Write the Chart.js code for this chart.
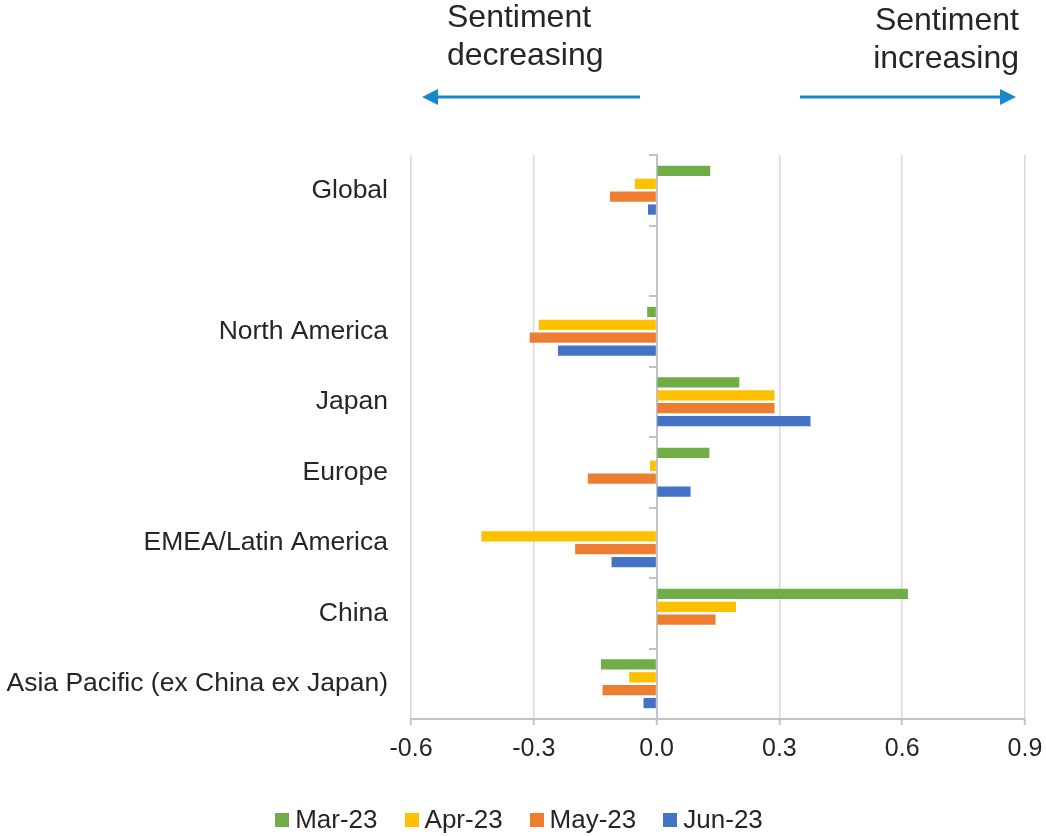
<!DOCTYPE html>
<html>
<head>
<meta charset="utf-8">
<script src="https://cdn.jsdelivr.net/npm/chart.js@4.4.1/dist/chart.umd.min.js"></script>
<style>
  html, body { margin: 0; padding: 0; background: #fff; }
  #wrap { position: relative; width: 1046px; height: 836px; }
  #legend {
    position: absolute; left: 0; top: 804px; width: 1038px;
    display: flex; justify-content: center;
    font-family: "Liberation Sans", Arial, sans-serif; font-size: 26px; color: #262626;
  }
  #legend .item { display: flex; align-items: center; margin: 0 13.5px; }
  #legend .sw { width: 14px; height: 14px; margin-right: 6px; }
</style>
</head>
<body>
<div id="wrap">
  <canvas id="chart" width="1046" height="836"></canvas>
  <div id="legend"></div>
</div>
<script>
// ---- data ----
const categories = ['Global', '', 'North America', 'Japan', 'Europe', 'EMEA/Latin America', 'China', 'Asia Pacific (ex China ex Japan)'];
const seriesNames = ['Mar-23', 'Apr-23', 'May-23', 'Jun-23'];
const mar23 = [0.131, null, -0.023, 0.202, 0.129, 0, 0.614, -0.136];
const apr23 = [-0.053, null, -0.288, 0.288, -0.016, -0.428, 0.194, -0.067];
const may23 = [-0.114, null, -0.310, 0.288, -0.168, -0.199, 0.144, -0.132];
const jun23 = [-0.021, null, -0.241, 0.376, 0.083, -0.110, 0, -0.032];
const xTicks = [-0.6, -0.3, 0, 0.3, 0.6, 0.9];

const colors = ['#70AD47', '#FFC000', '#ED7D31', '#4472C4'];
const textColor = '#262626';
const gridColor = '#D9D9D9';
const axisColor = '#BFC3C8';
const arrowColor = '#1689C9';
const fontFamily = '"Liberation Sans", Arial, sans-serif';

const datasets = [mar23, apr23, may23, jun23].map((vals, i) => ({
  label: seriesNames[i],
  data: vals,
  backgroundColor: colors[i],
  borderWidth: 0,
  categoryPercentage: 0.73,
  barPercentage: 0.8,
  yAxisID: 'y'
}));

// arrows + "Sentiment ..." notes above the plot
const notesPlugin = {
  id: 'notes',
  afterDraw(chart) {
    const ctx = chart.ctx;
    ctx.save();
    ctx.fillStyle = textColor;
    ctx.font = '32px ' + fontFamily;
    ctx.textBaseline = 'alphabetic';
    ctx.textAlign = 'left';
    ctx.fillText('Sentiment', 447, 27);
    ctx.fillText('decreasing', 447, 65);
    ctx.textAlign = 'right';
    ctx.fillText('Sentiment', 1019, 30);
    ctx.fillText('increasing', 1019, 68);

    ctx.strokeStyle = arrowColor;
    ctx.fillStyle = arrowColor;
    ctx.lineWidth = 3;
    const y = 97;
    // left arrow
    ctx.beginPath(); ctx.moveTo(640, y); ctx.lineTo(435, y); ctx.stroke();
    ctx.beginPath(); ctx.moveTo(422, y); ctx.lineTo(438, y - 8); ctx.lineTo(438, y + 8); ctx.closePath(); ctx.fill();
    // right arrow
    ctx.beginPath(); ctx.moveTo(800, y); ctx.lineTo(1002, y); ctx.stroke();
    ctx.beginPath(); ctx.moveTo(1016, y); ctx.lineTo(1000, y - 8); ctx.lineTo(1000, y + 8); ctx.closePath(); ctx.fill();
    ctx.restore();
  }
};

const chart = new Chart(document.getElementById('chart'), {
  type: 'bar',
  data: { labels: categories, datasets },
  plugins: [notesPlugin],
  options: {
    indexAxis: 'y',
    responsive: false,
    animation: false,
    devicePixelRatio: 1,
    layout: { padding: { left: 0, right: 21, top: 155, bottom: 57 } },
    plugins: { legend: { display: false }, tooltip: { enabled: false } },
    scales: {
      x: {
        min: xTicks[0],
        max: xTicks[xTicks.length - 1],
        ticks: {
          stepSize: 0.3,
          padding: 9,
          color: textColor,
          font: { family: fontFamily, size: 25 },
          callback: v => Number(v).toFixed(1)
        },
        grid: { color: gridColor, lineWidth: 1.5, tickLength: 6, tickColor: axisColor, tickWidth: 2 },
        border: { color: axisColor, width: 2 },
        afterFit: s => { s.height = 60; s.paddingRight = 0; s.paddingLeft = 0; }
      },
      y: {
        type: 'category',
        offset: true,
        grid: { display: false, drawTicks: false },
        border: { display: false },
        ticks: { padding: 23, color: textColor, font: { family: fontFamily, size: 26.5 } },
        afterFit: s => { s.width = 411; }
      },
      // zero line with category tick marks
      y2: {
        type: 'category',
        position: { x: 0 },
        offset: true,
        z: 1,
        grid: { offset: true, drawOnChartArea: false, tickLength: 7, color: axisColor, lineWidth: 2 },
        border: { color: axisColor, width: 2 },
        ticks: { display: false }
      }
    }
  }
});

// legend built from the datasets
const legendEl = document.getElementById('legend');
chart.data.datasets.forEach(ds => {
  const item = document.createElement('div');
  item.className = 'item';
  const sw = document.createElement('span');
  sw.className = 'sw';
  sw.style.background = ds.backgroundColor;
  const lbl = document.createElement('span');
  lbl.textContent = ds.label;
  item.appendChild(sw);
  item.appendChild(lbl);
  legendEl.appendChild(item);
});
</script>
</body>
</html>
